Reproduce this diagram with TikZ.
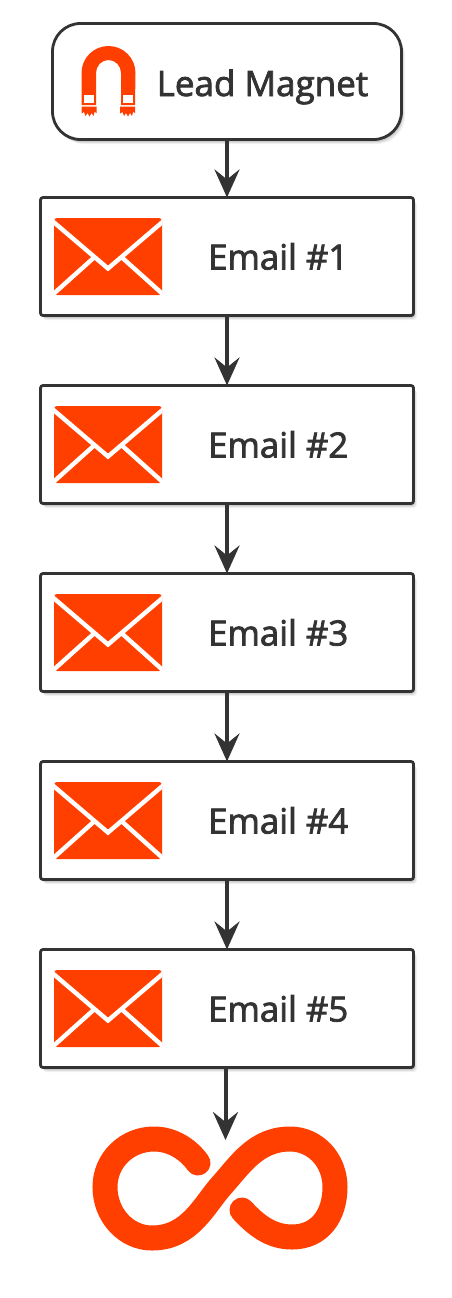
\documentclass[tikz,border=0pt]{standalone}
\usepackage{fontspec}
\setmainfont{Open Sans}[FakeBold=2.2]
\usetikzlibrary{arrows.meta}
\definecolor{ink}{HTML}{333333}
\definecolor{accent}{HTML}{FF3F00}
\tikzset{
  x=1pt,y=-1pt,
  emailbox/.style={draw=ink,line width=2.8pt,fill=white,rounded corners=2.5pt,minimum width=373pt,minimum height=118pt,inner sep=0pt,outer sep=0pt,anchor=north west},
  magnetbox/.style={draw=ink,line width=2.8pt,fill=white,rounded corners=28pt,minimum width=349pt,minimum height=116pt,inner sep=0pt,outer sep=0pt,anchor=north west},
  label/.style={text=ink,inner sep=0pt,font=\fontsize{34.8}{40}\selectfont,anchor=base west},
  leadlabel/.style={label,font=\fontsize{35}{40}\selectfont},
  link/.style={draw=ink,line width=4pt,-{Stealth[length=28pt,width=25pt,inset=10pt]}},
  flap/.style={draw=white,line width=4.4pt},
}
\newcommand{\envelope}[1]{%
  \begin{scope}[yshift=-#1 pt]
    \fill[accent,rounded corners=3pt] (54,218) rectangle (162,295);
    \begin{scope}
      \clip (54,218) rectangle (162,295);
      \draw[flap] (50,219) -- (108,268.5) -- (166,219);
      \draw[flap] (50,297) -- (93.5,258);
      \draw[flap] (166,297) -- (122.5,258);
    \end{scope}
  \end{scope}}
\newcommand{\boxshadow}[1]{%
  \foreach \d/\o in {5/.05,4/.07,3/.09,2/.1}{
    \fill[black,fill opacity=\o,rounded corners=3pt] (40+\d-1,#1+\d) rectangle (413+\d-1,#1+118+\d);}}
\begin{document}
\begin{tikzpicture}
\useasboundingbox (0,0) rectangle (452,1298);
% shadows
\foreach \d/\o in {5/.05,4/.07,3/.09,2/.1}{
  \fill[black,fill opacity=\o,rounded corners=28pt] (52+\d-1,23+\d) rectangle (401+\d-1,139+\d);}
\foreach \t in {197,385,573,761,949}{\boxshadow{\t}}
% boxes
\node[magnetbox] (magnet) at (52.5,23.5) {};
\node[emailbox] (e1) at (40.5,197.5) {};
\node[emailbox] (e2) at (40.5,385.5) {};
\node[emailbox] (e3) at (40.5,573.5) {};
\node[emailbox] (e4) at (40.5,761.5) {};
\node[emailbox] (e5) at (40.5,949.5) {};
% labels
\node[leadlabel] (tm) at (156.5,96) {Lead Magnet};
\node[label] (t1) at (208,269.5) {Email \#1};
\node[label] (t2) at (208,457.5) {Email \#2};
\node[label] (t3) at (208,645.5) {Email \#3};
\node[label] (t4) at (208,833.5) {Email \#4};
\node[label] (t5) at (208,1021.5) {Email \#5};
% connectors
\coordinate (loop) at (225.5,1140);
\draw[link] (magnet.south -| 227,0) -- (e1.north -| 227,0);
\draw[link] (e1.south -| 227,0) -- (e2.north -| 227,0);
\draw[link] (e2.south -| 227,0) -- (e3.north -| 227,0);
\draw[link] (e3.south -| 227,0) -- (e4.north -| 227,0);
\draw[link] (e4.south -| 227,0) -- (e5.north -| 227,0);
\draw[link] (e5.south -| loop) -- (loop);
% magnet icon
\fill[accent] (81.5,105) -- (81.5,73) arc[start angle=180,end angle=360,x radius=27,y radius=27] -- (135,105) -- (121,105) -- (121,73)
  arc[start angle=360,end angle=180,x radius=12.5,y radius=13] -- (96,105) -- cycle;
\fill[white] (84,94.5) rectangle (94,102.5);
\fill[white] (123,94.5) rectangle (133,102.5);
\foreach \ox in {81.5,120}{
  \fill[accent] (\ox,106.5) -- (\ox+15,106.5) -- (\ox+15,113) -- (\ox+13,112) -- (\ox+12,116) -- (\ox+10,113) -- (\ox+8,116.5) -- (\ox+6,113) -- (\ox+4,116) -- (\ox+2.5,112) -- (\ox,113.5) -- cycle;
}
% envelopes
\envelope{0}\envelope{188}\envelope{376}\envelope{564}\envelope{752}
% infinity
\draw[accent,line width=25pt,line cap=round]
  (198,1163) .. controls (188,1149) and (172,1139) .. (154,1139)
  .. controls (127,1139) and (105,1160) .. (105,1187)
  .. controls (105,1215) and (126,1238) .. (152,1238)
  .. controls (190,1238) and (204,1205) .. (222,1185)
  .. controls (240,1165) and (256,1139) .. (290,1139)
  .. controls (315,1139) and (335,1160) .. (335,1187)
  .. controls (335,1215) and (320,1237) .. (292,1237)
  .. controls (270,1237) and (255,1224) .. (242,1210);
\end{tikzpicture}
\end{document}
